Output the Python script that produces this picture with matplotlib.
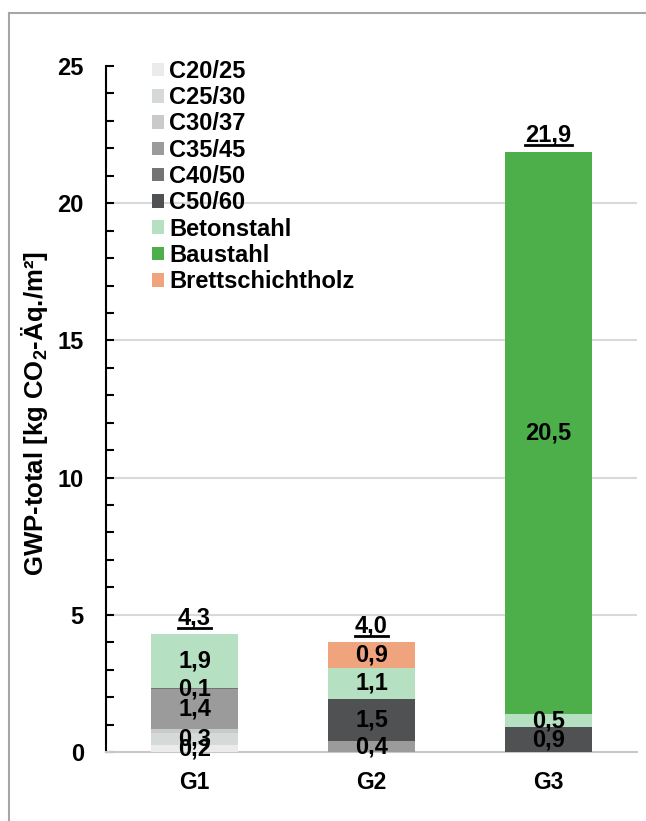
import matplotlib
matplotlib.use("Agg")
import matplotlib.pyplot as plt
from matplotlib.lines import Line2D
from matplotlib.ticker import MultipleLocator
import numpy as np

plt.rcParams['font.family'] = ['Liberation Sans', 'DejaVu Sans']
plt.rcParams['font.weight'] = 'bold'
plt.rcParams['mathtext.fontset'] = 'custom'
plt.rcParams['mathtext.rm'] = 'Liberation Sans:bold'
plt.rcParams['mathtext.bf'] = 'Liberation Sans:bold'
plt.rcParams['mathtext.it'] = 'Liberation Sans:bold'

categories = ["G1", "G2", "G3"]
materials = ["C20/25", "C25/30", "C30/37", "C35/45", "C40/50", "C50/60",
             "Betonstahl", "Baustahl", "Brettschichtholz"]
colors = ["#ebebeb", "#d5dad9", "#c9cacc", "#9b9b9b", "#737476", "#505153",
          "#b6e0c2", "#4caf4a", "#f0a47e"]

# segment heights per material (G1, G2, G3)
values = {
    "C20/25":           [0.25, 0.0, 0.0],
    "C25/30":           [0.44, 0.0, 0.0],
    "C30/37":           [0.15, 0.0, 0.0],
    "C35/45":           [1.45, 0.40, 0.0],
    "C40/50":           [0.04, 0.0, 0.0],
    "C50/60":           [0.0, 1.53, 0.91],
    "Betonstahl":       [1.97, 1.14, 0.47],
    "Baustahl":         [0.0, 0.0, 20.50],
    "Brettschichtholz": [0.0, 0.93, 0.0],
}
# printed segment labels (empty = none)
seg_labels = {
    "C20/25":           ["0,2", "", ""],
    "C25/30":           ["0,3", "", ""],
    "C30/37":           ["", "", ""],
    "C35/45":           ["1,4", "0,4", ""],
    "C40/50":           ["0,1", "", ""],
    "C50/60":           ["", "1,5", "0,9"],
    "Betonstahl":       ["1,9", "1,1", "0,5"],
    "Baustahl":         ["", "", "20,5"],
    "Brettschichtholz": ["", "0,9", ""],
}
totals = [4.3, 4.0, 21.9]
total_labels = ["4,3", "4,0", "21,9"]
yticks = [0, 5, 10, 15, 20, 25]

fig = plt.figure(figsize=(6.46, 8.21), dpi=100)
ax = fig.add_axes([106/646, 1-752/821, 531/646, (752-66)/821])

x = np.arange(len(categories))
bottom = np.zeros(len(categories))
width = 0.49
for m, c in zip(materials, colors):
    v = np.array(values[m])
    ax.bar(x, v, width, bottom=bottom, color=c, label=m, zorder=3)
    for i in range(len(categories)):
        lab = seg_labels[m][i]
        if lab:
            ax.text(x[i], bottom[i] + v[i] / 2, lab, ha='center', va='center',
                    fontsize=17, fontweight='bold', color='black', zorder=5)
    bottom += v

total_texts = []
for i in range(len(categories)):
    t = ax.annotate(total_labels[i], (x[i], bottom[i]),
                    xytext=(0, 7), textcoords='offset points', ha='center', va='baseline',
                    fontsize=17, fontweight='bold', color='black')
    total_texts.append(t)

ax.set_xlim(-0.5, 2.5)
ax.set_ylim(0, 25)
ax.set_yticks(yticks)
ax.yaxis.set_minor_locator(MultipleLocator(1))
ax.set_xticks(x)
ax.set_xticklabels(categories, fontsize=16.5, fontweight='bold')
ax.tick_params(axis='x', length=0, pad=14)
ax.tick_params(axis='y', which='both', direction='in', length=6, width=1.5,
               labelsize=17, pad=16)
for t in ax.get_yticklabels():
    t.set_fontweight('bold')

ax.grid(axis='y', color='#d9d9d9', linewidth=1.5, zorder=0)
ax.set_axisbelow(True)
ax.yaxis.get_gridlines()[-1].set_visible(False)
ax.yaxis.get_gridlines()[0].set_visible(False)

for s in ['top', 'right']:
    ax.spines[s].set_visible(False)
ax.spines['left'].set_color('black')
ax.spines['left'].set_linewidth(1.5)
ax.spines['bottom'].set_color('#c8c8c8')
ax.spines['bottom'].set_linewidth(1.5)

ax.set_ylabel(r"GWP-total [kg CO$_2$-Äq./m²]", fontsize=18.5, fontweight='bold')
ax.yaxis.set_label_coords((50 - 106) / 531, (752 - 414) / 686)

leg = ax.legend(loc='upper left', bbox_to_anchor=(0.0866, 1.009), frameon=False,
                fontsize=17, handlelength=0.51, handleheight=0.51,
                handletextpad=0.22, labelspacing=0.14, borderpad=0, borderaxespad=0)
for t in leg.get_texts():
    t.set_fontweight('bold')

fig.add_artist(Line2D([9/646, 9/646], [0, 1-13/821], transform=fig.transFigure,
                      color='#a6a6a6', linewidth=1.5))
fig.add_artist(Line2D([9/646, 1], [1-13/821, 1-13/821], transform=fig.transFigure,
                      color='#a6a6a6', linewidth=1.5))

# underline the totals
fig.canvas.draw()
r = fig.canvas.get_renderer()
inv = fig.transFigure.inverted()
for t in total_texts:
    bb = t.get_window_extent(renderer=r)
    x0, y0 = inv.transform((bb.x0, bb.y0 + 1.5))
    x1, _ = inv.transform((bb.x1, bb.y0 + 1.5))
    fig.add_artist(Line2D([x0, x1], [y0, y0], transform=fig.transFigure,
                          color='black', linewidth=2))

fig.savefig("out.png", dpi=100)
